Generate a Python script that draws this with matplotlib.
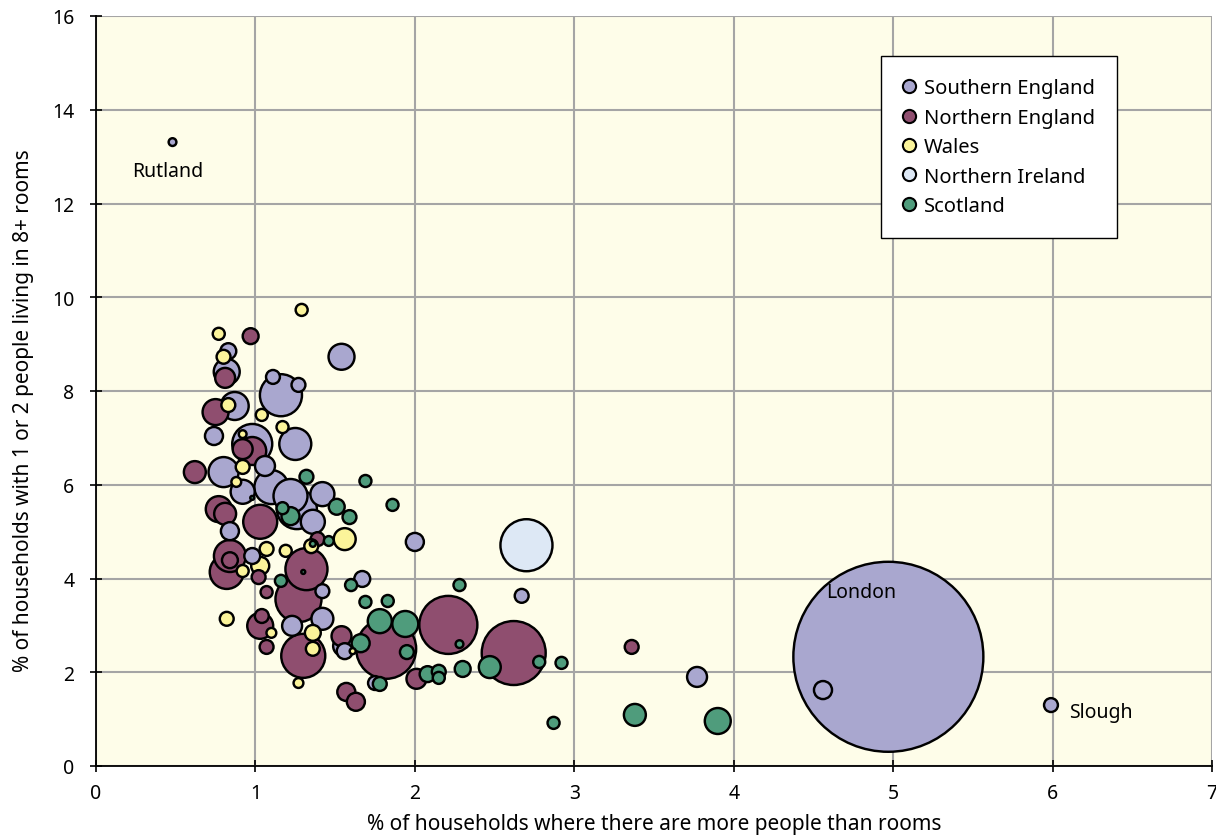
import numpy as np
import matplotlib
matplotlib.use("Agg")
import matplotlib.pyplot as plt
from matplotlib.lines import Line2D

plt.rcParams['font.family'] = ['Noto Sans', 'DejaVu Sans']

# ---- data: x = % overcrowded, y = % small households in 8+ rooms, h = households (thousands)
south_x = [4.97, 5.99, 4.56, 3.77, 2.67, 2.00, 1.67, 1.54, 0.48, 1.16, 1.11, 1.27, 1.25, 0.83, 0.82,
           0.87, 0.74, 0.98, 0.80, 1.06, 1.10, 1.22, 1.26, 0.92, 0.84, 1.42, 1.36, 0.98, 1.42, 1.42,
           1.23, 1.55, 1.56, 1.75]
south_y = [2.33, 1.30, 1.62, 1.90, 3.63, 4.78, 3.99, 8.73, 13.31, 7.91, 8.30, 8.13, 6.87, 8.85, 8.41,
           7.68, 7.04, 6.87, 6.27, 6.40, 5.95, 5.76, 5.48, 5.85, 5.01, 5.80, 5.21, 4.48, 3.73, 3.14,
           2.99, 2.56, 2.45, 1.77]
south_h = [3000, 16, 27, 33, 16, 27, 21, 56, 5, 147, 16, 16, 85, 21, 56,
           65, 27, 133, 75, 33, 96, 96, 133, 48, 27, 48, 48, 21, 16, 40,
           33, 33, 21, 16]

north_x = [2.62, 2.21, 1.82, 3.36, 1.27, 1.32, 1.30, 1.03, 1.04, 1.07, 1.07, 1.02, 0.84, 0.84, 0.82,
           1.54, 1.57, 1.63, 2.01, 1.39, 0.62, 0.77, 0.81, 1.03, 0.75, 0.98, 0.92, 0.97, 0.81]
north_y = [2.41, 3.01, 2.50, 2.54, 3.56, 4.20, 2.35, 2.99, 3.20, 2.54, 3.71, 4.03, 4.48, 4.39, 4.14,
           2.77, 1.58, 1.37, 1.86, 4.84, 6.27, 5.48, 5.38, 5.21, 7.55, 6.72, 6.76, 9.17, 8.28]
north_h = [340, 280, 299, 16, 176, 147, 161, 56, 16, 16, 12, 16, 85, 21, 96,
           33, 27, 27, 33, 16, 40, 56, 40, 96, 56, 65, 33, 21, 33]

wales_x = [1.29, 0.77, 0.80, 0.83, 1.04, 1.17, 0.92, 0.92, 0.88, 1.07, 1.19, 1.35, 1.56, 1.03, 0.92,
           0.82, 1.10, 1.36, 1.36, 1.27, 1.61]
wales_y = [9.73, 9.22, 8.73, 7.70, 7.49, 7.23, 7.08, 6.38, 6.06, 4.63, 4.59, 4.69, 4.84, 4.27, 4.16,
           3.14, 2.84, 2.84, 2.50, 1.77, 2.45]
wales_h = [12, 12, 16, 16, 12, 12, 5, 16, 8, 16, 12, 16, 40, 27, 12,
           16, 8, 21, 16, 8, 3]

ni_x = [2.70]
ni_y = [4.71]
ni_h = [225]

scot_x = [3.90, 3.38, 2.87, 2.92, 2.78, 2.47, 2.30, 2.28, 2.28, 2.08, 2.15, 2.15, 1.94, 1.78, 1.95,
          1.66, 1.78, 1.83, 1.69, 1.60, 1.69, 1.86, 1.51, 1.59, 1.32, 1.46, 1.36, 1.16, 1.30, 1.17,
          1.22, 0.98]
scot_y = [0.96, 1.09, 0.92, 2.20, 2.22, 2.11, 2.07, 3.86, 2.60, 1.96, 2.01, 1.88, 3.03, 3.09, 2.43,
          2.62, 1.75, 3.52, 3.50, 3.86, 6.08, 5.57, 5.53, 5.31, 6.17, 4.80, 4.74, 3.95, 4.14, 5.50,
          5.33, 5.72]
scot_h = [56, 40, 12, 12, 12, 40, 21, 12, 5, 21, 16, 12, 56, 48, 16,
          27, 16, 12, 12, 12, 12, 12, 21, 16, 16, 8, 3, 12, 1.3, 12,
          27, 1.3]

regions = ["Southern England", "Northern England", "Wales", "Northern Ireland", "Scotland"]
colors = ["#a9a7cf", "#8f4e6f", "#fbf49a", "#dde8f5", "#4f9c7c"]

labels = [("Rutland", 0.48, 13.31), ("London", 4.97, 2.33), ("Slough", 5.99, 1.30)]
xticks = [0, 1, 2, 3, 4, 5, 6, 7]
yticks = [0, 2, 4, 6, 8, 10, 12, 14, 16]

# ---- figure
DPI = 100
fig = plt.figure(figsize=(12.16, 8.37), dpi=DPI)
fig.patch.set_facecolor("white")
ax = fig.add_axes([96 / 1216, 70 / 837, 1116 / 1216, 750 / 837])
ax.set_facecolor("#fefde9")

allx, ally, allh, allc = [], [], [], []
for xs, ys, hs, c in [(south_x, south_y, south_h, colors[0]),
                      (north_x, north_y, north_h, colors[1]),
                      (wales_x, wales_y, wales_h, colors[2]),
                      (ni_x, ni_y, ni_h, colors[3]),
                      (scot_x, scot_y, scot_h, colors[4])]:
    allx += xs; ally += ys; allh += hs; allc += [c] * len(xs)
allx = np.array(allx); ally = np.array(ally); allh = np.array(allh, float)
order = np.argsort(-allh, kind="stable")

r_px = 95 * np.sqrt(allh / 3000.0)
r_pt = r_px * 72.0 / DPI
sizes = (2 * r_pt) ** 2
ax.scatter(allx[order], ally[order], s=sizes[order], c=[allc[i] for i in order],
           edgecolors="black", linewidths=1.75, zorder=3)

ax.set_xlim(0, 7)
ax.set_ylim(0, 16)
ax.set_xticks(xticks)
ax.set_yticks(yticks)
ax.grid(True, color="#a5a5a5", linewidth=1.5, zorder=0)
ax.set_axisbelow(True)
for s in ["top", "right"]:
    ax.spines[s].set_visible(False)
for s in ["left", "bottom"]:
    ax.spines[s].set_linewidth(1.3)
    ax.spines[s].set_color("black")
ax.tick_params(axis="both", labelsize=14, direction="inout", length=9, width=1.2, colors="black")
ax.tick_params(axis="x", pad=8)
ax.tick_params(axis="y", pad=11)
ax.set_xlabel("% of households where there are more people than rooms", fontsize=15, labelpad=7)
ax.set_ylabel("% of households with 1 or 2 people living in 8+ rooms", fontsize=15, labelpad=13)
ax.yaxis.label.set_y(0.475)

ax.annotate("Rutland", (labels[0][1], labels[0][2]), xytext=(-3.6, -20.5), textcoords="offset points",
            ha="center", va="center", fontsize=14, zorder=5)
ax.annotate("London", (labels[1][1], labels[1][2]), xytext=(-19.4, 47), textcoords="offset points",
            ha="center", va="center", fontsize=14, zorder=5)
ax.annotate("Slough", (labels[2][1], labels[2][2]), xytext=(13.2, -4.8), textcoords="offset points",
            ha="left", va="center", fontsize=14, zorder=5)

handles = [Line2D([0], [0], marker="o", linestyle="none", markersize=9.5,
                  markerfacecolor=c, markeredgecolor="black", markeredgewidth=1.5)
           for c in colors]
leg = ax.legend(handles, regions, loc="upper right", bbox_to_anchor=(1021 / 1116, 710 / 750),
                fontsize=14.5, frameon=True, fancybox=False, edgecolor="black",
                framealpha=1, borderpad=1.1, handletextpad=0.45, labelspacing=0.47,
                handlelength=0.6, borderaxespad=0)
leg.get_frame().set_linewidth(1.0)
leg.set_zorder(10)

fig.savefig("out.png", dpi=DPI)
